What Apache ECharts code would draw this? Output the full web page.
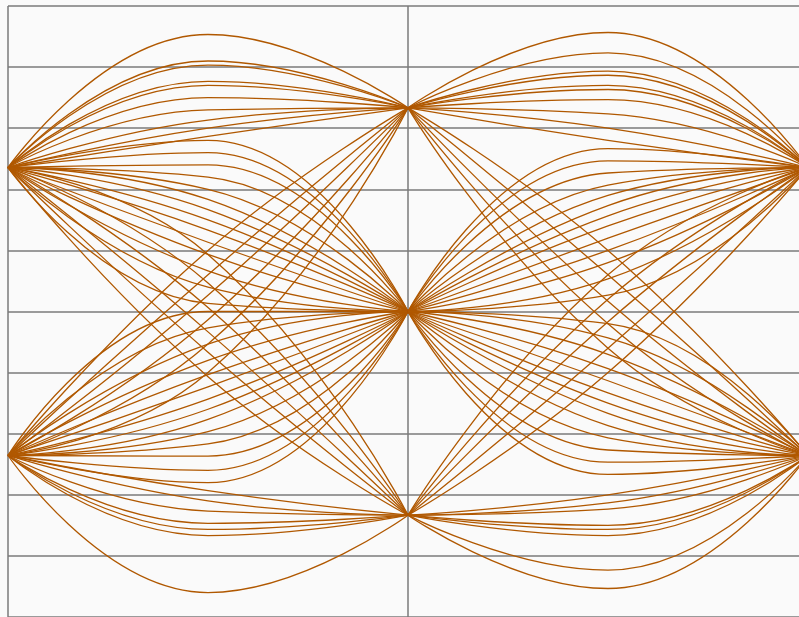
<!DOCTYPE html>
<html>
<head>
<meta charset="utf-8">
<script src="https://cdn.jsdelivr.net/npm/echarts@6/dist/echarts.min.js"></script>
<style>
html,body{margin:0;padding:0;background:#fafafa;}
#chart{width:799px;height:617px;}
</style>
</head>
<body>
<div id="chart"></div>
<script>
// sample instants (symbol periods)
const tFirst = [0, 0.5, 1];
const tSecond = [1, 1.5, 2];

// first symbol interval: [value at t=0, value at t=0.5, value at t=1]
const firstHalf = [
  [0.707, 1.36, 1], [0.707, 1.23, 1], [0.707, 1.21, 1], [0.707, 1.13, 1], [0.707, 1.11, 1],
  [0.707, 1.05, 1], [0.707, 0.99, 1], [0.707, 0.94, 1], [0.707, 0.90, 1], [0.707, 0.86, 1],
  [0.707, 0.84, 0], [0.707, 0.78, 0], [0.707, 0.72, 0], [0.707, 0.66, 0], [0.707, 0.60, 0],
  [0.707, 0.55, 0], [0.707, 0.50, 0], [0.707, 0.45, 0], [0.707, 0.40, 0], [0.707, 0.34, 0],
  [0.707, 0.28, 0], [0.707, 0.20, 0], [0.707, 0.12, 0], [0.707, 0.04, 0],
  [0.707, 0.28, -1], [0.707, 0.14, -1], [0.707, 0.02, -1], [0.707, -0.10, -1], [0.707, -0.20, -1], [0.707, -0.32, -1],
  [-0.707, -1.38, -1], [-0.707, -1.10, -1], [-0.707, -1.07, -1], [-0.707, -1.04, -1], [-0.707, -0.98, -1],
  [-0.707, -0.93, -1], [-0.707, -0.88, -1],
  [-0.707, -0.84, 0], [-0.707, -0.78, 0], [-0.707, -0.71, 0], [-0.707, -0.65, 0], [-0.707, -0.59, 0],
  [-0.707, -0.53, 0], [-0.707, -0.48, 0], [-0.707, -0.43, 0], [-0.707, -0.37, 0], [-0.707, -0.31, 0],
  [-0.707, -0.24, 0], [-0.707, -0.16, 0], [-0.707, -0.08, 0], [-0.707, 0.00, 0],
  [-0.707, -0.30, 1], [-0.707, -0.16, 1], [-0.707, -0.04, 1], [-0.707, 0.08, 1], [-0.707, 0.18, 1], [-0.707, 0.30, 1]
];

// second symbol interval: [value at t=1, value at t=1.5, value at t=2]
const secondHalf = [
  [1, 1.37, 0.707], [1, 1.27, 0.707], [1, 1.18, 0.707], [1, 1.16, 0.707], [1, 1.11, 0.707],
  [1, 1.09, 0.707], [1, 1.04, 0.707], [1, 0.97, 0.707], [1, 0.90, 0.707], [1, 0.84, 0.707],
  [0, 0.80, 0.707], [0, 0.74, 0.707], [0, 0.68, 0.707], [0, 0.62, 0.707], [0, 0.57, 0.707],
  [0, 0.52, 0.707], [0, 0.47, 0.707], [0, 0.42, 0.707], [0, 0.36, 0.707], [0, 0.30, 0.707],
  [0, 0.24, 0.707], [0, 0.16, 0.707], [0, 0.08, 0.707],
  [-1, -0.30, 0.707], [-1, -0.18, 0.707], [-1, -0.05, 0.707], [-1, 0.06, 0.707], [-1, 0.18, 0.707],
  [-1, -1.36, -0.707], [-1, -1.27, -0.707], [-1, -1.10, -0.707], [-1, -1.07, -0.707], [-1, -1.05, -0.707],
  [-1, -0.97, -0.707], [-1, -0.94, -0.707], [-1, -0.90, -0.707],
  [0, -0.80, -0.707], [0, -0.74, -0.707], [0, -0.68, -0.707], [0, -0.62, -0.707], [0, -0.56, -0.707],
  [0, -0.50, -0.707], [0, -0.45, -0.707], [0, -0.40, -0.707], [0, -0.34, -0.707], [0, -0.28, -0.707],
  [0, -0.21, -0.707], [0, -0.13, -0.707], [0, -0.06, -0.707],
  [1, 0.30, -0.707], [1, 0.18, -0.707], [1, 0.05, -0.707], [1, -0.06, -0.707], [1, -0.18, -0.707]
];

const yTicks = { min: -1.5, max: 1.5, interval: 0.3 };
const xTicks = { min: 0, max: 2, interval: 1 };

const traceColor = '#b05800';
const gridColor = '#7a7a7a';

function toSeries(rows, ts) {
  return rows.map(r => ({
    type: 'line',
    data: r.map((v, i) => [ts[i], v]),
    smooth: 0.5,
    showSymbol: false,
    symbol: 'none',
    silent: true,
    clip: false,
    lineStyle: { color: traceColor, width: 1.3 },
    animation: false
  }));
}

const chart = echarts.init(document.getElementById('chart'), null, { renderer: 'canvas' });
chart.setOption({
  backgroundColor: '#fafafa',
  animation: false,
  grid: { left: 8, top: 6, width: 800, height: 611, containLabel: false, outerBoundsMode: 'none' },
  xAxis: {
    type: 'value', min: xTicks.min, max: xTicks.max, interval: xTicks.interval,
    axisLine: { show: false }, axisTick: { show: false }, axisLabel: { show: false },
    splitLine: { show: true, lineStyle: { color: gridColor, width: 1.5 } }
  },
  yAxis: {
    type: 'value', min: yTicks.min, max: yTicks.max, interval: yTicks.interval,
    axisLine: { show: false }, axisTick: { show: false }, axisLabel: { show: false },
    splitLine: { show: true, lineStyle: { color: gridColor, width: 1.5 } }
  },
  series: toSeries(firstHalf, tFirst).concat(toSeries(secondHalf, tSecond))
});
</script>
</body>
</html>
